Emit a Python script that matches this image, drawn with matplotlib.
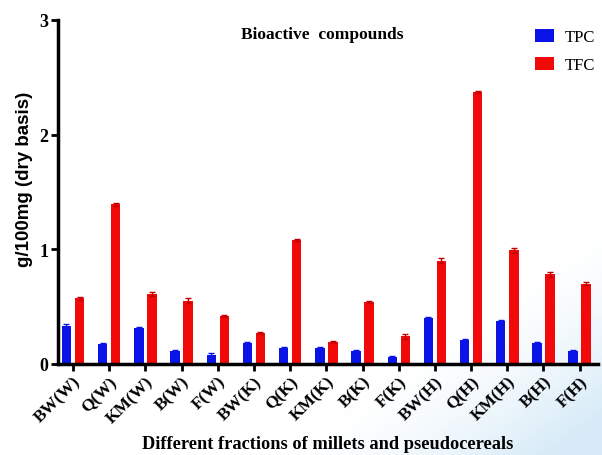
import matplotlib
matplotlib.use("Agg")
import matplotlib.pyplot as plt
import numpy as np

# fractions of millets and pseudocereals
categories = ["BW(W)", "Q(W)", "KM(W)", "B(W)", "F(W)",
              "BW(K)", "Q(K)", "KM(K)", "B(K)", "F(K)",
              "BW(H)", "Q(H)", "KM(H)", "B(H)", "F(H)"]
tpc = [0.33, 0.17, 0.31, 0.11, 0.08, 0.18, 0.14, 0.14, 0.11, 0.06, 0.40, 0.21, 0.37, 0.18, 0.11]
tfc = [0.57, 1.39, 0.61, 0.55, 0.42, 0.27, 1.08, 0.19, 0.54, 0.24, 0.90, 2.37, 0.99, 0.78, 0.70]
tpc_err = [0.02, 0.01, 0.01, 0.01, 0.01, 0.01, 0.01, 0.01, 0.01, 0.01, 0.01, 0.01, 0.01, 0.01, 0.01]
tfc_err = [0.01, 0.01, 0.02, 0.02, 0.01, 0.01, 0.01, 0.01, 0.01, 0.02, 0.02, 0.01, 0.02, 0.02, 0.01]

serif = "Liberation Serif"

fig = plt.figure(figsize=(6.02, 4.56), dpi=100)

# faint light blue wash in the lower right corner (slide background)
bg = fig.add_axes([0, 0, 1, 1], zorder=-1)
bg.axis("off")
px, py = np.meshgrid(np.arange(602), np.arange(456))
s = np.clip((px - 440) / 160 * 0.6 + (py - 340) / 116 * 0.6, 0, 1) ** 1.5
white = np.array([1.0, 1.0, 1.0])
blue = np.array([0.84, 0.92, 0.97])
img = white * (1 - s[..., None]) + blue * s[..., None]
bg.imshow(img, aspect="auto", extent=(0, 1, 0, 1), origin="upper")
bg.set_xlim(0, 1)
bg.set_ylim(0, 1)

ax = fig.add_axes([0.096, 0.2, 0.897, 0.754])
ax.set_facecolor("none")

x = np.arange(len(categories))
w = 0.26
ax.bar(x - 0.18, tpc, w, color="#0a14e6", label="TPC",
       yerr=tpc_err, capsize=2, error_kw=dict(ecolor="#0a14e6", elinewidth=1, capthick=1))
ax.bar(x + 0.18, tfc, w, color="#f20a0a", label="TFC",
       yerr=tfc_err, capsize=2, error_kw=dict(ecolor="#c00000", elinewidth=1, capthick=1))

ax.set_xlim(-0.42, 14.5)
ax.set_ylim(0, 3)
ax.set_yticks([0, 1, 2, 3])
ax.set_xticks(x)
ax.set_xticklabels(categories, rotation=45, ha="right", rotation_mode="anchor",
                   fontfamily=serif, fontweight="bold", fontsize=12.5)
for lab in ax.get_yticklabels():
    lab.set_fontfamily(serif)
    lab.set_fontweight("bold")
    lab.set_fontsize(13)

ax.spines["top"].set_visible(False)
ax.spines["right"].set_visible(False)
ax.spines["left"].set_linewidth(2.5)
ax.spines["bottom"].set_linewidth(2.5)
ax.tick_params(axis="both", width=2, length=5, direction="out", pad=2)

ax.set_ylabel("g/100mg (dry basis)", fontsize=13.5, fontweight="bold", fontfamily="Liberation Sans")
ax.yaxis.set_label_coords(-0.045, 0.54)
ax.set_xlabel("Different fractions of millets and pseudocereals", fontfamily=serif,
              fontweight="bold", fontsize=13.2, labelpad=6)
ax.text(0.49, 0.96, "Bioactive  compounds", transform=ax.transAxes, ha="center", va="center",
        fontfamily=serif, fontweight="bold", fontsize=12.5)

leg = ax.legend(loc="upper left", bbox_to_anchor=(535 / 602, 1 - 30 / 456),
                bbox_transform=fig.transFigure, frameon=False, borderpad=0, borderaxespad=0,
                prop=dict(family=serif, size=12), handlelength=1.15, handleheight=0.85,
                handletextpad=0.65, labelspacing=0.7)

fig.savefig("out.png", dpi=100)
